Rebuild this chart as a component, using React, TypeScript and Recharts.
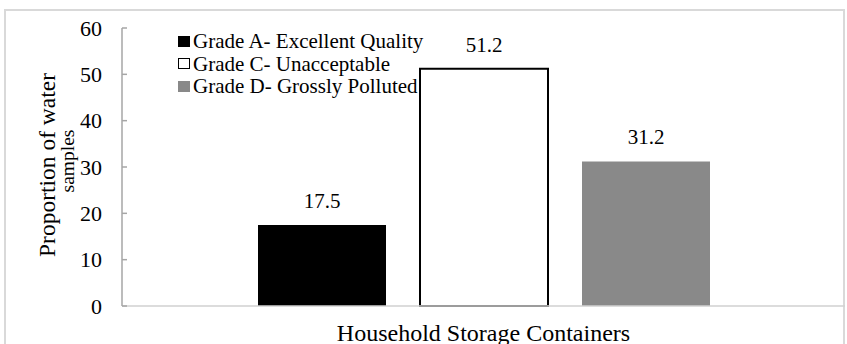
import React from 'react';
import { BarChart, Bar, XAxis, YAxis, Legend, LabelList } from 'recharts';

// Water quality grades of household storage containers (% of samples)
const categories = ['Household Storage Containers'];
const gradeA = [17.5];
const gradeC = [51.2];
const gradeD = [31.2];
const seriesNames = [
  'Grade A- Excellent Quality',
  'Grade C- Unacceptable',
  'Grade D- Grossly Polluted',
];
const yTicks = [0, 10, 20, 30, 40, 50, 60];

const FONT = '"Liberation Serif", "Times New Roman", Times, serif';

const series = [
  { key: 'gradeA', name: seriesNames[0], fill: '#000000', stroke: 'none', strokeWidth: 0 },
  { key: 'gradeC', name: seriesNames[1], fill: '#ffffff', stroke: '#000000', strokeWidth: 2 },
  { key: 'gradeD', name: seriesNames[2], fill: '#898989', stroke: 'none', strokeWidth: 0 },
];

const data = categories.map((category, i) => ({
  category,
  gradeA: gradeA[i],
  gradeC: gradeC[i],
  gradeD: gradeD[i],
}));

const LegendContent = () => (
  <div style={{ fontFamily: FONT, fontSize: 21, lineHeight: '22.5px', color: '#000', whiteSpace: 'nowrap' }}>
    {series.map((s) => (
      <div key={s.key} style={{ display: 'flex', alignItems: 'center' }}>
        <span
          style={{
            display: 'inline-block',
            boxSizing: 'border-box',
            width: 12,
            height: 11,
            marginRight: 3,
            background: s.fill,
            border: s.stroke !== 'none' ? '1.5px solid #000' : 'none',
          }}
        />
        <span>{s.name}</span>
      </div>
    ))}
  </div>
);

const XTick = (props: any) => {
  const { x, y, payload } = props;
  return (
    <text x={x} y={y} dy={35} textAnchor="middle" fontFamily={FONT} fontSize={24} fill="#000">
      {payload.value}
    </text>
  );
};

// Two-line rotated title for the value axis
const YTitle = (props: any) => {
  const { viewBox } = props;
  const cy = viewBox.y + viewBox.height / 2 - 2;
  return (
    <text
      transform={`translate(55 ${cy}) rotate(-90)`}
      textAnchor="middle"
      fontFamily={FONT}
      fill="#000"
    >
      <tspan x={0} y={0} style={{ fontSize: '23.5px' }}>
        Proportion of water
      </tspan>
      <tspan x={4} y={19} style={{ fontSize: '19.5px' }}>
        samples
      </tspan>
    </text>
  );
};

export default function App() {
  return (
    <div style={{ position: 'absolute', left: 0, top: 0, width: 847, height: 344, background: '#fff' }}>
      <div
        style={{
          position: 'absolute',
          left: 4,
          top: 9,
          width: 841,
          height: 335,
          boxSizing: 'border-box',
          border: '2px solid #d9d9d9',
          borderBottom: 'none',
        }}
      />
      <div style={{ position: 'absolute', left: 0, top: 0 }}>
        <BarChart
          width={847}
          height={344}
          data={data}
          margin={{ top: 28, right: 2, bottom: 0, left: 0 }}
          barCategoryGap={136}
          barGap={34}
        >
          <XAxis
            dataKey="category"
            height={38}
            tickLine={false}
            tickSize={0}
            tickMargin={0}
            axisLine={{ stroke: '#d0d0d0', strokeWidth: 1.5 }}
            tick={<XTick />}
          />
          <YAxis
            width={122}
            domain={[0, 60]}
            ticks={yTicks}
            interval={0}
            tickSize={-5}
            tickMargin={25}
            axisLine={{ stroke: '#a6a6a6', strokeWidth: 1.5 }}
            tickLine={{ stroke: '#a6a6a6', strokeWidth: 1.5 }}
            tick={{ fontFamily: FONT, fontSize: 22, fill: '#000' }}
            label={<YTitle />}
          />
          <Legend
            layout="horizontal"
            verticalAlign="middle"
            align="center"
            content={<LegendContent />}
            wrapperStyle={{ left: 178, top: 30, width: 'auto', height: 'auto' }}
          />
          {series.map((s) => (
            <Bar
              key={s.key}
              dataKey={s.key}
              name={s.name}
              fill={s.fill}
              stroke={s.stroke}
              strokeWidth={s.strokeWidth}
              isAnimationActive={false}
            >
              <LabelList
                dataKey={s.key}
                position="top"
                offset={17}
                fontFamily={FONT}
                fontSize={21}
                fill="#000"
              />
            </Bar>
          ))}
        </BarChart>
      </div>
    </div>
  );
}
